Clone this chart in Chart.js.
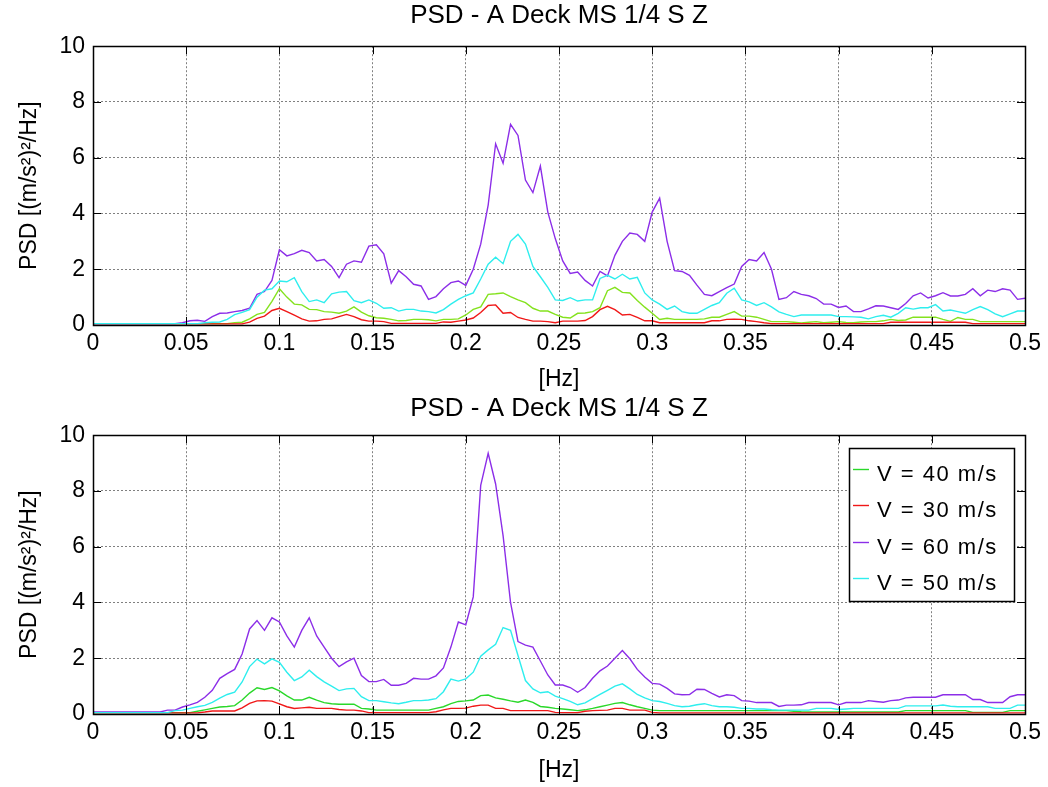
<!DOCTYPE html>
<html>
<head>
<meta charset="utf-8">
<script src="https://cdn.jsdelivr.net/npm/chart.js@4.4.1/dist/chart.umd.min.js"></script>
<style>
  html, body { margin: 0; padding: 0; background: #fff; }
  #wrap { width: 1048px; height: 787px; }
  canvas { display: block; }
</style>
</head>
<body>
<div id="wrap">
  <canvas id="psdTop" width="1048" height="393"></canvas>
  <canvas id="psdBottom" width="1048" height="394"></canvas>
</div>
<script>
// frequency grid of the spectra (Hz), 0 .. 0.5 in steps of 0.004
var df = 0.004;
var freq = [];
for (var i = 0; i <= 125; i++) freq.push(+(i * df).toFixed(3));

var chartTitle = 'PSD - A Deck MS 1/4 S Z';
var xTitle = '[Hz]';
var yTitle = 'PSD [(m/s\u00b2)\u00b2/Hz]';
var xTicks = [0, 0.05, 0.1, 0.15, 0.2, 0.25, 0.3, 0.35, 0.4, 0.45, 0.5];
var yTicks = [0, 2, 4, 6, 8, 10];
var legendLabels = ['V = 40 m/s', 'V = 30 m/s', 'V = 60 m/s', 'V = 50 m/s'];

// upper plot
var top40 = [
  0.05,0.05,0.05,0.05,0.05,0.05,0.05,0.05,0.05,0.05,
  0.05,0.05,0.05,0.05,0.05,0.05,0.05,0.05,0.05,0.08,
  0.1,0.22,0.38,0.45,0.85,1.3,1.0,0.75,0.72,0.56,
  0.55,0.48,0.46,0.42,0.5,0.65,0.46,0.33,0.26,0.24,
  0.2,0.15,0.16,0.2,0.2,0.19,0.15,0.2,0.2,0.22,
  0.36,0.56,0.65,1.1,1.12,1.15,1.02,0.9,0.8,0.6,
  0.5,0.5,0.38,0.28,0.25,0.42,0.43,0.48,0.62,1.23,
  1.35,1.17,1.15,0.88,0.64,0.42,0.2,0.24,0.2,0.2,
  0.2,0.2,0.22,0.28,0.28,0.38,0.48,0.32,0.32,0.28,
  0.2,0.12,0.12,0.12,0.1,0.07,0.1,0.12,0.08,0.1,
  0.12,0.09,0.08,0.11,0.12,0.12,0.15,0.2,0.16,0.18,
  0.28,0.28,0.28,0.28,0.2,0.13,0.27,0.2,0.2,0.12,
  0.12,0.12,0.12,0.12,0.12,0.12
];
var top30 = [
  0.04,0.04,0.04,0.04,0.04,0.04,0.04,0.04,0.04,0.04,
  0.04,0.04,0.04,0.04,0.04,0.04,0.04,0.04,0.04,0.04,
  0.04,0.1,0.24,0.32,0.52,0.6,0.48,0.35,0.22,0.14,
  0.15,0.2,0.22,0.3,0.38,0.3,0.19,0.14,0.14,0.12,
  0.06,0.06,0.06,0.06,0.06,0.06,0.06,0.11,0.1,0.14,
  0.18,0.25,0.45,0.7,0.72,0.42,0.45,0.27,0.2,0.14,
  0.14,0.12,0.08,0.14,0.14,0.14,0.16,0.3,0.55,0.67,
  0.55,0.36,0.38,0.27,0.15,0.15,0.08,0.08,0.08,0.08,
  0.08,0.08,0.08,0.15,0.15,0.2,0.21,0.2,0.15,0.12,
  0.08,0.05,0.05,0.05,0.05,0.05,0.05,0.05,0.05,0.05,
  0.05,0.05,0.05,0.05,0.05,0.05,0.05,0.1,0.1,0.1,
  0.1,0.1,0.1,0.1,0.1,0.1,0.1,0.1,0.05,0.05,
  0.05,0.05,0.05,0.05,0.05,0.05
];
var top60 = [
  0.05,0.05,0.05,0.05,0.05,0.05,0.05,0.05,0.05,0.05,
  0.05,0.05,0.08,0.15,0.17,0.13,0.3,0.42,0.43,0.48,
  0.52,0.6,1.1,1.2,1.6,2.7,2.48,2.56,2.68,2.6,
  2.3,2.35,2.1,1.7,2.18,2.3,2.25,2.83,2.88,2.55,
  1.5,1.95,1.73,1.46,1.4,0.92,1.02,1.3,1.52,1.58,
  1.42,2.0,2.9,4.3,6.5,5.8,7.2,6.8,5.2,4.75,
  5.7,4.05,3.1,2.3,1.85,1.9,1.6,1.4,1.92,1.76,
  2.5,3.0,3.3,3.25,3.0,4.05,4.55,3.0,1.95,1.92,
  1.78,1.43,1.1,1.05,1.2,1.34,1.47,2.1,2.35,2.3,
  2.6,2.0,0.92,0.98,1.2,1.1,1.05,0.95,0.75,0.75,
  0.63,0.68,0.48,0.48,0.58,0.69,0.68,0.62,0.56,0.77,
  1.05,1.15,0.97,1.05,1.16,1.04,1.04,1.1,1.3,1.05,
  1.25,1.2,1.3,1.25,0.92,0.96
];
var top50 = [
  0.05,0.05,0.05,0.05,0.05,0.05,0.05,0.05,0.05,0.05,
  0.05,0.05,0.05,0.05,0.05,0.08,0.1,0.11,0.2,0.37,
  0.45,0.55,1.0,1.25,1.3,1.58,1.55,1.7,1.2,0.84,
  0.9,0.8,1.12,1.18,1.2,0.87,0.8,0.9,0.78,0.6,
  0.62,0.5,0.56,0.56,0.5,0.48,0.43,0.55,0.75,0.92,
  1.05,1.15,1.65,2.18,2.43,2.2,3.0,3.25,2.9,2.1,
  1.73,1.35,0.9,0.88,0.98,0.86,0.9,0.9,1.67,1.78,
  1.65,1.82,1.65,1.71,1.15,0.9,0.75,0.56,0.68,0.48,
  0.42,0.42,0.56,0.7,0.8,1.14,1.32,0.9,0.83,0.7,
  0.8,0.65,0.47,0.38,0.3,0.36,0.36,0.36,0.36,0.36,
  0.3,0.3,0.29,0.28,0.22,0.3,0.35,0.28,0.42,0.62,
  0.57,0.62,0.62,0.73,0.5,0.54,0.48,0.42,0.55,0.66,
  0.55,0.4,0.3,0.4,0.5,0.5
];

// lower plot
var bot40 = [
  0.05,0.05,0.05,0.05,0.05,0.05,0.05,0.05,0.05,0.05,
  0.05,0.05,0.05,0.05,0.1,0.15,0.2,0.25,0.27,0.3,
  0.5,0.75,0.94,0.88,0.95,0.83,0.65,0.5,0.5,0.6,
  0.5,0.41,0.37,0.35,0.35,0.35,0.2,0.18,0.14,0.14,
  0.14,0.14,0.14,0.14,0.14,0.14,0.2,0.26,0.37,0.45,
  0.47,0.5,0.66,0.68,0.58,0.53,0.47,0.42,0.5,0.42,
  0.27,0.24,0.2,0.18,0.15,0.12,0.15,0.2,0.26,0.32,
  0.38,0.41,0.33,0.26,0.2,0.14,0.12,0.12,0.12,0.12,
  0.12,0.12,0.12,0.12,0.12,0.12,0.12,0.12,0.12,0.12,
  0.12,0.12,0.12,0.12,0.1,0.08,0.07,0.07,0.07,0.07,
  0.07,0.07,0.07,0.07,0.07,0.07,0.07,0.07,0.07,0.12,
  0.12,0.12,0.12,0.12,0.12,0.12,0.12,0.12,0.06,0.06,
  0.06,0.06,0.06,0.12,0.12,0.12
];
var bot30 = [
  0.04,0.04,0.04,0.04,0.04,0.04,0.04,0.04,0.04,0.04,
  0.04,0.04,0.04,0.04,0.04,0.07,0.11,0.11,0.11,0.11,
  0.22,0.38,0.47,0.48,0.46,0.36,0.26,0.2,0.22,0.24,
  0.2,0.2,0.2,0.16,0.14,0.14,0.11,0.05,0.05,0.05,
  0.05,0.05,0.05,0.05,0.05,0.05,0.08,0.15,0.2,0.2,
  0.21,0.28,0.32,0.32,0.2,0.2,0.12,0.12,0.12,0.12,
  0.12,0.12,0.06,0.05,0.05,0.05,0.1,0.12,0.13,0.14,
  0.2,0.2,0.14,0.14,0.14,0.06,0.04,0.04,0.04,0.04,
  0.04,0.04,0.04,0.04,0.04,0.04,0.04,0.04,0.04,0.04,
  0.04,0.04,0.04,0.04,0.04,0.04,0.04,0.04,0.04,0.04,
  0.04,0.04,0.04,0.04,0.04,0.04,0.04,0.04,0.04,0.04,
  0.04,0.04,0.04,0.04,0.04,0.04,0.04,0.04,0.04,0.04,
  0.04,0.04,0.04,0.04,0.04,0.04
];
var bot60 = [
  0.07,0.07,0.07,0.07,0.07,0.07,0.07,0.07,0.07,0.07,
  0.14,0.14,0.25,0.33,0.42,0.6,0.85,1.28,1.45,1.6,
  2.15,3.05,3.35,3.0,3.45,3.3,2.8,2.4,3.0,3.45,
  2.8,2.4,2.0,1.7,1.87,2.0,1.38,1.16,1.16,1.24,
  1.03,1.03,1.1,1.28,1.25,1.25,1.37,1.65,2.4,3.3,
  3.2,4.2,8.2,9.35,8.25,6.4,4.0,2.6,2.47,2.4,
  1.9,1.4,1.04,1.04,0.95,0.78,0.95,1.28,1.55,1.72,
  2.0,2.28,1.98,1.6,1.33,1.1,1.07,0.92,0.72,0.69,
  0.7,0.89,0.88,0.74,0.61,0.69,0.66,0.48,0.46,0.41,
  0.41,0.41,0.27,0.32,0.32,0.33,0.41,0.41,0.41,0.41,
  0.33,0.41,0.41,0.41,0.48,0.45,0.42,0.48,0.5,0.58,
  0.6,0.6,0.6,0.6,0.69,0.69,0.69,0.69,0.52,0.52,
  0.41,0.41,0.41,0.62,0.69,0.69
];
var bot50 = [
  0.05,0.05,0.05,0.05,0.05,0.05,0.05,0.05,0.05,0.05,
  0.05,0.12,0.14,0.2,0.26,0.31,0.42,0.57,0.7,0.78,
  1.15,1.7,1.97,1.8,1.98,1.85,1.5,1.2,1.33,1.57,
  1.34,1.15,1.0,0.84,0.9,0.92,0.62,0.48,0.48,0.44,
  0.4,0.37,0.42,0.48,0.48,0.5,0.55,0.8,1.25,1.18,
  1.26,1.5,2.07,2.3,2.5,3.1,3.0,2.1,1.2,0.9,
  0.76,0.8,0.64,0.55,0.45,0.33,0.4,0.55,0.7,0.85,
  1.0,1.08,0.9,0.7,0.58,0.48,0.45,0.38,0.3,0.26,
  0.28,0.33,0.37,0.3,0.26,0.26,0.24,0.2,0.2,0.18,
  0.18,0.15,0.14,0.14,0.14,0.14,0.14,0.2,0.2,0.2,
  0.16,0.18,0.2,0.2,0.2,0.2,0.2,0.2,0.2,0.29,
  0.29,0.29,0.29,0.29,0.32,0.28,0.26,0.26,0.26,0.26,
  0.26,0.2,0.2,0.2,0.32,0.32
];

var topColors = ['#84e21e', '#f01818', '#8c2ee8', '#2eeeee'];
var botColors = ['#2ad82a', '#f01818', '#8c2ee8', '#2eeeee'];

var fontFamily = "'Liberation Sans', Arial, sans-serif";

// black box round the axes with small inward tick marks, like the original
var axesBox = {
    id: 'axesBox',
    afterDraw: function (chart) {
        var ctx = chart.ctx, a = chart.chartArea;
        var xs = chart.scales.x, ys = chart.scales.y;
        var len = 8;
        ctx.save();
        ctx.strokeStyle = '#000';
        ctx.lineWidth = 1;
        ctx.beginPath();
        xs.ticks.forEach(function (t) {
            var px = Math.round(xs.getPixelForValue(t.value)) + 0.5;
            ctx.moveTo(px, a.bottom); ctx.lineTo(px, a.bottom - len);
            ctx.moveTo(px, a.top); ctx.lineTo(px, a.top + len);
        });
        ys.ticks.forEach(function (t) {
            var py = Math.round(ys.getPixelForValue(t.value)) + 0.5;
            ctx.moveTo(a.left, py); ctx.lineTo(a.left + len, py);
            ctx.moveTo(a.right, py); ctx.lineTo(a.right - len, py);
        });
        ctx.stroke();
        ctx.lineWidth = 1.5;
        ctx.strokeRect(Math.round(a.left) + 0.5, Math.round(a.top) + 0.5,
            Math.round(a.right - a.left), Math.round(a.bottom - a.top));
        ctx.restore();
    }
};

// boxed legend inside the lower axes
var psdLegend = {
    id: 'psdLegend',
    afterDraw: function (chart, args, o) {
        if (!o.show) return;
        var ctx = chart.ctx;
        ctx.save();
        ctx.fillStyle = '#fff';
        ctx.fillRect(o.left, o.top, o.right - o.left, o.bottom - o.top);
        ctx.strokeStyle = '#000';
        ctx.lineWidth = 1.5;
        ctx.strokeRect(o.left + 0.5, o.top + 0.5, o.right - o.left, o.bottom - o.top);
        ctx.font = o.fontSize + 'px ' + fontFamily;
        if ('letterSpacing' in ctx) ctx.letterSpacing = o.spacing + 'px';
        ctx.textBaseline = 'middle';
        ctx.textAlign = 'left';
        chart.data.datasets.forEach(function (ds, k) {
            var yy = Math.round(o.top + o.firstRow + k * o.rowGap) + 0.5;
            ctx.strokeStyle = ds.borderColor;
            ctx.lineWidth = 1.4;
            ctx.beginPath();
            ctx.moveTo(o.lineStart, yy);
            ctx.lineTo(o.lineEnd, yy);
            ctx.stroke();
            ctx.fillStyle = '#000';
            ctx.fillText(ds.label, o.textX, yy + o.textShift);
        });
        ctx.restore();
    }
};

function makeChart(id, series, colors, lay) {
    var datasets = series.map(function (s, k) {
        return {
            label: legendLabels[k],
            data: freq.map(function (f, i) { return { x: f, y: s[i] }; }),
            borderColor: colors[k],
            backgroundColor: colors[k],
            borderWidth: 1.4,
            pointRadius: 0,
            fill: false,
            tension: 0,
            order: series.length - k
        };
    });
    var tickFont = { family: fontFamily, size: 23 };
    return new Chart(document.getElementById(id).getContext('2d'), {
        type: 'line',
        data: { datasets: datasets },
        options: {
            responsive: false,
            devicePixelRatio: 1,
            animation: false,
            layout: { padding: { left: 0, right: 23, top: 0, bottom: 0 } },
            plugins: {
                legend: { display: false },
                tooltip: { enabled: false },
                title: {
                    display: true,
                    fullSize: false,
                    text: chartTitle,
                    color: '#000',
                    font: { family: fontFamily, size: 26, weight: 'normal' },
                    padding: { top: 0, bottom: lay.titleGap }
                },
                psdLegend: lay.legend
            },
            scales: {
                x: {
                    type: 'linear',
                    min: xTicks[0],
                    max: xTicks[xTicks.length - 1],
                    afterBuildTicks: function (s) { s.ticks = xTicks.map(function (v) { return { value: v }; }); },
                    afterFit: function (s) { s.height = lay.xHeight; },
                    ticks: {
                        color: '#000',
                        font: tickFont,
                        padding: 5,
                        maxRotation: 0,
                        autoSkip: false,
                        callback: function (v) { return String(+(+v).toFixed(2)); }
                    },
                    grid: { color: '#808080', lineWidth: 1, drawTicks: false },
                    border: { display: false, dash: [2, 2] },
                    title: {
                        display: true,
                        text: xTitle,
                        color: '#000',
                        font: tickFont,
                        padding: { top: 0, bottom: lay.xTitlePad }
                    }
                },
                y: {
                    min: yTicks[0],
                    max: yTicks[yTicks.length - 1],
                    afterBuildTicks: function (s) { s.ticks = yTicks.map(function (v) { return { value: v }; }); },
                    afterFit: function (s) { s.width = 93; },
                    ticks: { color: '#000', font: tickFont, padding: 8 },
                    grid: { color: '#808080', lineWidth: 1, drawTicks: false },
                    border: { display: false, dash: [2, 2] },
                    title: {
                        display: true,
                        text: yTitle,
                        color: '#000',
                        font: tickFont,
                        padding: { top: 16, bottom: 0 }
                    }
                }
            }
        },
        plugins: [axesBox, psdLegend]
    });
}

makeChart('psdTop', [top40, top30, top60, top50], topColors, {
    titleGap: 15, xHeight: 68, xTitlePad: 0, legend: { show: false }
});
makeChart('psdBottom', [bot40, bot30, bot60, bot50], botColors, {
    titleGap: 11, xHeight: 73, xTitlePad: 3,
    legend: {
        show: true, left: 849, top: 55, right: 1014, bottom: 208,
        firstRow: 21, rowGap: 36.3, lineStart: 853, lineEnd: 869,
        textX: 877, textShift: 5, fontSize: 22, spacing: 1.5
    }
});
</script>
</body>
</html>
